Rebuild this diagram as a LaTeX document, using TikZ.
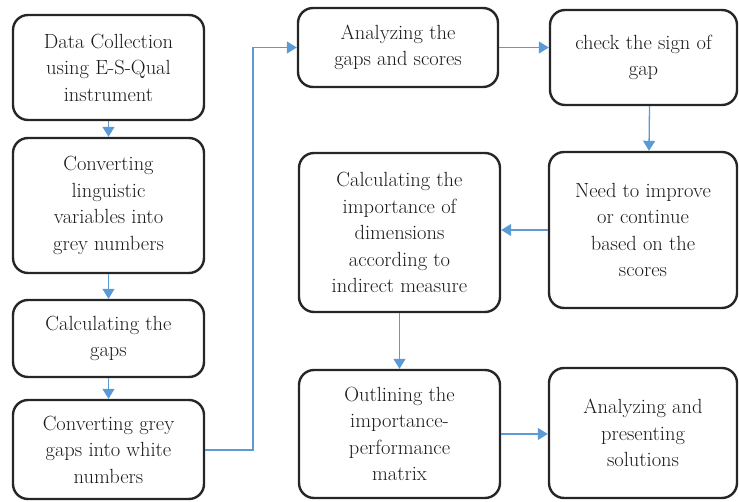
\documentclass[tikz,border=0pt]{standalone}
\usetikzlibrary{arrows.meta,calc}
\definecolor{arrblue}{HTML}{5B9BD5}
\definecolor{txt}{HTML}{1A1A1A}
\begin{document}
\begin{tikzpicture}[x=1pt,y=-1pt,
  box/.style={draw=black!85, line width=2.4pt, rounded corners=15pt, align=center,
    inner sep=0pt, font=\fontsize{20.5}{26.5}\selectfont, text=txt},
  arr/.style={draw=arrblue, line width=1.3pt, -{Triangle[width=12pt,length=10pt]}}]
\useasboundingbox (0,0) rectangle (739,502);
\node[box, minimum width=191pt, minimum height=105pt] (b1) at (108.5,67.5) {Data Collection\\using E-S-Qual\\instrument};
\node[box, minimum width=191pt, minimum height=135pt] (b2) at (108.5,205.5) {Converting\\linguistic\\variables into\\grey numbers};
\node[box, minimum width=191pt, minimum height=77pt] (b3) at (108.5,338.5) {Calculating the\\gaps};
\node[box, minimum width=191pt, minimum height=99pt] (b4) at (108.5,449.5) {Converting grey\\gaps into white\\numbers};
\node[box, minimum width=200pt, minimum height=79pt] (b5) at (398,47.5) {Analyzing the\\gaps and scores};
\node[box, minimum width=187pt, minimum height=95pt] (b6) at (643.5,57.5) {check the sign of\\gap};
\node[box, minimum width=188pt, minimum height=156pt] (b7) at (643,230) {Need to improve\\or continue\\based on the\\scores};
\node[box, minimum width=201pt, minimum height=159pt] (b8) at (399.5,232.5) {Calculating the\\importance of\\dimensions\\according to\\indirect measure};
\node[box, minimum width=201pt, minimum height=128pt] (b9) at (399.5,434) {Outlining the\\importance-\\performance\\matrix};
\node[box, minimum width=188pt, minimum height=130pt] (b10) at (643,433) {Analyzing and\\presenting\\solutions};
\draw[arr] (b1.south) -- (b2.north);
\draw[arr] (b2.south) -- (b3.north);
\draw[arr] (b3.south) -- (b4.north);
\coordinate (c1) at (253,450);
\coordinate (c2) at (253,47.5);
\draw[arr] (b4.east |- c1) -- (c1) -- (c2) -- (b5.west);
\draw[arr] (b5.east) -- (b6.west |- b5.east);
\draw[arr] ([xshift=6pt]b6.south) -- ([xshift=6pt]b7.north);
\draw[arr] (b7.west) -- (b8.east |- b7.west);
\draw[arr] (b8.south) -- (b9.north);
\draw[arr] (b9.east) -- (b10.west |- b9.east);
\end{tikzpicture}
\end{document}
